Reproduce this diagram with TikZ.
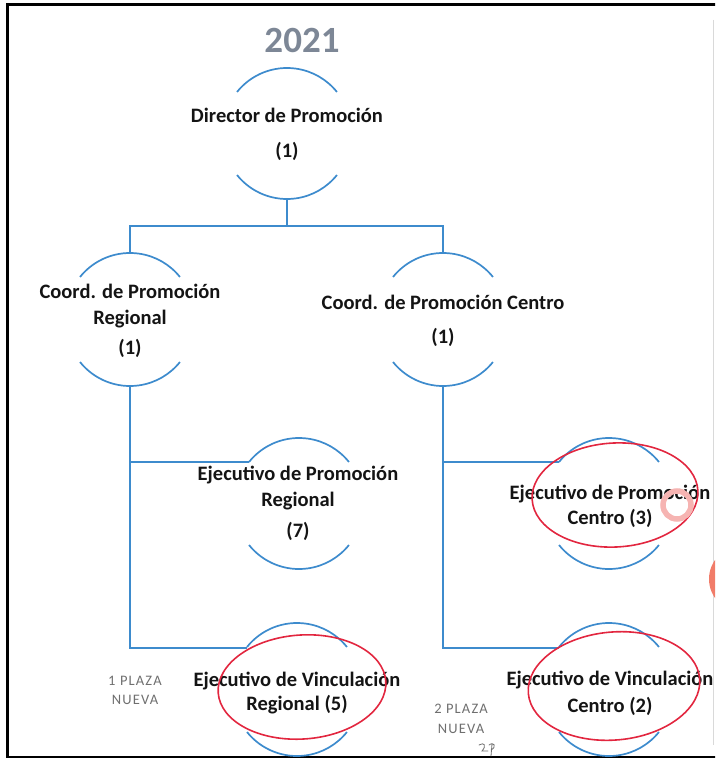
\documentclass[tikz,border=0pt]{standalone}
\usepackage{fontspec}
\setmainfont{Carlito}
\usetikzlibrary{shapes.geometric}
\definecolor{lineblue}{HTML}{3D8BCD}
\definecolor{circred}{HTML}{E2263F}
\definecolor{yeargray}{HTML}{7D8796}
\definecolor{plazagray}{HTML}{6F6F6F}
\definecolor{blobred}{HTML}{F17C69}
\definecolor{ringpink}{HTML}{F6B4B2}
\newcommand\bracketpair[3]{%
  \draw[arcline] (#1-50,#2) arc[start angle=218.66, end angle=321.34, radius=64];
  \draw[arcline] (#1-50,#3) arc[start angle=141.34, end angle=38.66, radius=64];}
\begin{document}
\begin{tikzpicture}[x=1pt,y=-1pt,
  conn/.style={draw=lineblue, line width=1.7pt},
  arcline/.style={draw=lineblue, line width=1.7pt},
  lbl/.style={font=\bfseries\fontsize{20.5}{24}\selectfont, text=black!92, inner sep=0pt, anchor=base},
  plaza/.style={font=\addfontfeature{LetterSpace=8}\fontsize{14.5}{16}\selectfont, text=plazagray, inner sep=0pt, anchor=base},
  redmark/.style={ellipse, draw=circred, line width=1.6pt, inner sep=0pt}
]
\useasboundingbox (0,0) rectangle (715,759);
\begin{scope}
\clip (0,0) rectangle (715,759);
% frame and page edge
\draw[line width=2.2pt] (720,4.5) -- (7.5,4.5) -- (7.5,757) -- (720,757);
\draw[black!15, line width=0.8pt] (713,20) -- (713,745);
\fill[blobred] (742,579) circle (33);

% year
\node[font=\bfseries\fontsize{37}{40}\selectfont, text=yeargray, inner sep=0pt] (year) at (302,40) {2021};

% arcs (brackets) of each box
\bracketpair{287}{92}{175}
\bracketpair{130}{277}{362}
\bracketpair{443}{277}{362}
\bracketpair{299}{462}{545}
\bracketpair{609}{462}{545}
\bracketpair{297}{647}{732}
\bracketpair{609}{647}{732}

% texts
\node[lbl] (dir1) at (287,123) {Director de Promoción};
\node[lbl] (dir2) at (287,158) {(1)};
\node[lbl] (cr1) at (130,298) {Coord. de Promoción};
\node[lbl] (cr2) at (130,324) {Regional};
\node[lbl] (cr3) at (130,354) {(1)};
\node[lbl] (cc1) at (443,309) {Coord. de Promoción Centro};
\node[lbl] (cc2) at (443,343) {(1)};
\node[lbl] (epr1) at (298,480) {Ejecutivo de Promoción};
\node[lbl] (epr2) at (298,506) {Regional};
\node[lbl] (epr3) at (298,537) {(7)};
\node[lbl] (epc1) at (610,499) {Ejecutivo de Promoción};
\node[lbl] (epc2) at (610,524) {Centro (3)};
\node[lbl] (evr1) at (297,686) {Ejecutivo de Vinculación};
\node[lbl] (evr2) at (297,710) {Regional (5)};
\node[lbl] (evc1) at (610,685) {Ejecutivo de Vinculación};
\node[lbl] (evc2) at (610,712) {Centro (2)};

\node[plaza] (p1a) at (135,685) {1 PLAZA};
\node[plaza] (p1b) at (135,704) {NUEVA};
\node[plaza] (p2a) at (461,713) {2 PLAZA};
\node[plaza] (p2b) at (461,733) {NUEVA};
\draw[plazagray, line width=0.8pt, line cap=round] (479,745) .. controls (484,742) and (487,745) .. (482,751) -- (488,751) (489,745) .. controls (494,741) and (497,747) .. (491,750) (492,744) -- (491,756);

% connector anchors
\coordinate (dirB) at (287,199);
\coordinate (bus) at (287,226);
\coordinate (crT) at (130,253);
\coordinate (ccT) at (443,253);
\coordinate (crB) at (130,386);
\coordinate (ccB) at (443,386);
\coordinate (eprA) at (249,462);
\coordinate (evrA) at (247,648);
\coordinate (epcA) at (559,462);
\coordinate (evcA) at (559,648);

\draw[conn] (dirB) -- (bus);
\draw[conn] (crT) |- (bus) -| (ccT);
\draw[conn] (crB) |- (eprA);
\draw[conn] (crB) |- (evrA);
\draw[conn] (ccB) |- (epcA);
\draw[conn] (ccB) |- (evcA);

% hand-drawn marks
\node[redmark, minimum width=166pt, minimum height=104pt, rotate=3] (epcM) at (615,495) {};
\node[redmark, minimum width=168pt, minimum height=104pt, rotate=4] (evrM) at (302,687) {};
\node[redmark, minimum width=172pt, minimum height=108pt, rotate=5] (evcM) at (614,686) {};
\draw[ringpink, line width=5.5pt] (677,505) circle (14);
\end{scope}
\end{tikzpicture}
\end{document}
